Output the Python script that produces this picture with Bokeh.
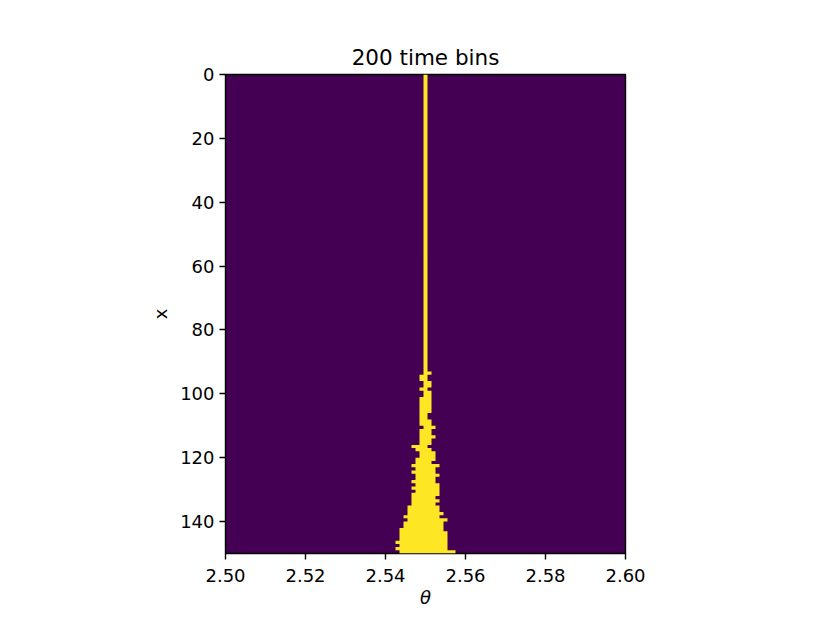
from bokeh.plotting import figure
from bokeh.models import Range1d, FixedTicker, PrintfTickFormatter
from bokeh.embed import file_html
from bokeh.resources import INLINE

# ---------------- data ----------------
title_text = "200 time bins"
x_label = "θ"
y_label = "x"
theta_start, theta_stop = 2.50, 2.60
theta_bin0 = 2.500        # centre of bin 0
theta_bin_width = 0.001
n_rows = 150
x_ticks = [2.50, 2.52, 2.54, 2.56, 2.58, 2.60]
y_ticks = [0, 20, 40, 60, 80, 100, 120, 140]

# occupied (yellow) theta-bin range per row x = 0..149 (inclusive bin indices)
left_bin = [50] * 93 + [
    50, 49, 49, 50, 50, 49, 50, 50, 49, 49,
    49, 49, 49, 49, 49, 49, 49, 50, 49, 49,
    49, 49, 49, 47, 48, 49, 49, 48, 48, 47,
    48, 47, 48, 48, 47, 48, 47, 48, 47, 47,
    47, 47, 46, 46, 46, 45, 46, 45, 45, 44,
    44, 44, 44, 43, 44, 43, 44]
right_bin = [50] * 93 + [
    51, 50, 50, 51, 51, 50, 51, 51, 51, 51,
    51, 51, 51, 50, 50, 51, 51, 52, 51, 51,
    52, 51, 51, 50, 51, 52, 52, 52, 51, 53,
    52, 52, 53, 52, 52, 53, 53, 53, 53, 52,
    53, 52, 53, 53, 54, 53, 55, 54, 54, 54,
    55, 55, 55, 55, 55, 55, 57]

bg_color = "#440154"
fg_color = "#fde725"

# ---------------- polygon of occupied cells ----------------
xs, ys = [], []
for row in range(n_rows):
    r = theta_bin0 + theta_bin_width * (right_bin[row] + 0.5)
    xs += [r, r]
    ys += [row, row + 1]
for row in reversed(range(n_rows)):
    l = theta_bin0 + theta_bin_width * (left_bin[row] - 0.5)
    xs += [l, l]
    ys += [row + 1, row]

# ---------------- figure ----------------
FONT = "DejaVu Sans"
p = figure(width=815, height=615, output_backend="svg", toolbar_location=None,
           x_range=Range1d(theta_start, theta_stop), y_range=Range1d(n_rows, 0),
           min_border_left=225, min_border_right=190, min_border_top=74,
           min_border_bottom=62, title=title_text)

p.background_fill_color = bg_color
p.border_fill_color = "white"
p.outline_line_color = "black"
p.outline_line_width = 1.4
p.grid.visible = False

p.patch(xs, ys, fill_color=fg_color, line_alpha=0)

p.title.align = "center"
p.title.text_font = FONT
p.title.text_font_size = "21.5px"
p.title.text_font_style = "normal"
p.title.text_color = "black"
p.title.standoff = 9

for ax in (p.xaxis[0], p.yaxis[0]):
    ax.major_label_text_font = FONT
    ax.major_label_text_font_size = "18px"
    ax.major_label_text_color = "black"
    ax.axis_label_text_font = FONT
    ax.axis_label_text_font_size = "18px"
    ax.axis_label_text_color = "black"
    ax.major_tick_out = 6
    ax.major_tick_in = 0
    ax.major_tick_line_width = 1.4
    ax.minor_tick_out = 0
    ax.minor_tick_in = 0
    ax.axis_line_color = None

p.xaxis.major_label_standoff = 9
p.yaxis.major_label_standoff = 5

p.xaxis.ticker = FixedTicker(ticks=x_ticks)
p.xaxis.formatter = PrintfTickFormatter(format="%.2f")
p.xaxis.axis_label = x_label
p.xaxis.axis_label_text_font_style = "italic"
p.xaxis.axis_label_standoff = 2

p.yaxis.ticker = FixedTicker(ticks=y_ticks)
p.yaxis.axis_label = y_label
p.yaxis.axis_label_text_font_style = "normal"
p.yaxis.axis_label_standoff = 6

open("out.html", "w").write(file_html(p, INLINE))
